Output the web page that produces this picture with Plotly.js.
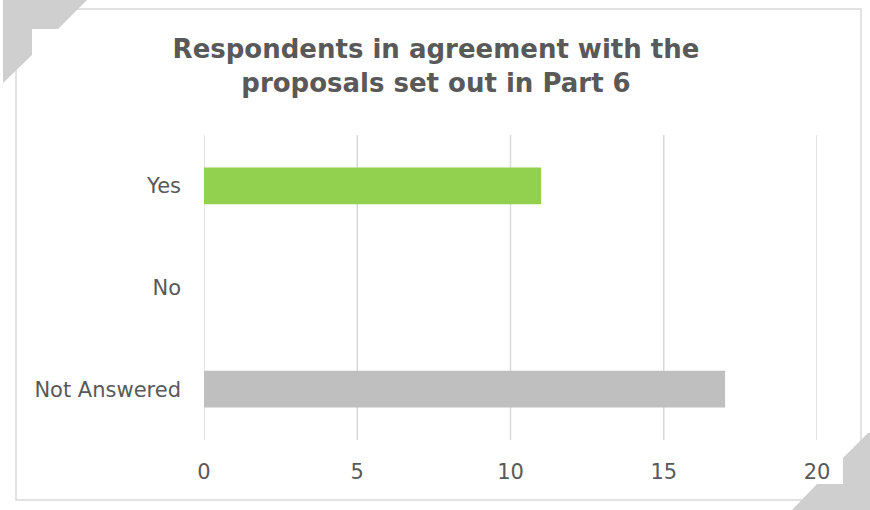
<!DOCTYPE html>
<html><head><meta charset="utf-8">
<script src="https://cdn.plot.ly/plotly-3.0.1.min.js"></script>
<style>body{margin:0;background:#fff}#c{width:870px;height:510px}</style>
</head><body><div id="c"></div>
<script>
const categories = ["Yes", "No", "Not Answered"];
const values = [11, 0, 17];
const barColors = ["#92d050", "#92d050", "#bfbfbf"];
const tickVals = [0, 5, 10, 15, 20];

const L = 204, R = 817, T = 135, B = 440;
function px(x){ return (x - L) / (R - L); }
function py(y){ return (B - y) / (B - T); }
function path(pts){ return 'M' + pts.map(p => px(p[0]) + ',' + py(p[1])).join(' L') + ' Z'; }

const deco = '#d0cfcf';
const shapes = [
  {type:'rect', xref:'paper', yref:'paper', x0:px(16), x1:px(861), y0:py(500), y1:py(9),
   line:{color:'#d9d9d9', width:1.5}, fillcolor:'rgba(0,0,0,0)', layer:'below'}
];
tickVals.forEach(v => shapes.push({type:'line', xref:'x', yref:'paper', x0:v, x1:v, y0:0, y1:1,
  line:{color:'#d9d9d9', width:1.5}, layer:'below'}));
shapes.push(
  {type:'path', xref:'paper', yref:'paper', path:path([[3,0],[87,0],[58,29],[32,29],[32,55],[3,83]]),
   fillcolor:deco, line:{width:0}},
  {type:'path', xref:'paper', yref:'paper', path:path([[870,433],[868,433],[843,458],[843,484],[817,484],[792,510],[870,510]]),
   fillcolor:deco, line:{width:0}}
);

Plotly.newPlot('c', [{
  type:'bar', orientation:'h', y:categories, x:values,
  marker:{color:barColors}, hoverinfo:'x+y'
}], {
  width:870, height:510,
  margin:{l:L, r:870-R, t:T, b:510-B, pad:0},
  paper_bgcolor:'#fff', plot_bgcolor:'rgba(0,0,0,0)',
  bargap:0.64,
  font:{family:'"DejaVu Sans", sans-serif', color:'#595959'},
  title:{text:'Respondents in agreement with the<br>proposals set out in Part 6',
    font:{size:26, color:'#595959', family:'"DejaVu Sans", sans-serif', weight:'bold'},
    x:436/870, xref:'container', xanchor:'center', y:1-58/510, yref:'container', yanchor:'top'},
  xaxis:{range:[0,20], tickvals:tickVals, showgrid:false,
    zeroline:false, showline:false, ticks:'', ticklabelstandoff:17, tickfont:{size:21, color:'#595959'}, fixedrange:true},
  yaxis:{autorange:'reversed', showgrid:false, zeroline:false, showline:false, ticks:'',
    ticklabelstandoff:22, tickfont:{size:21, color:'#595959'}, fixedrange:true},
  shapes:shapes, showlegend:false
}, {displayModeBar:false, staticPlot:true});
</script></body></html>
